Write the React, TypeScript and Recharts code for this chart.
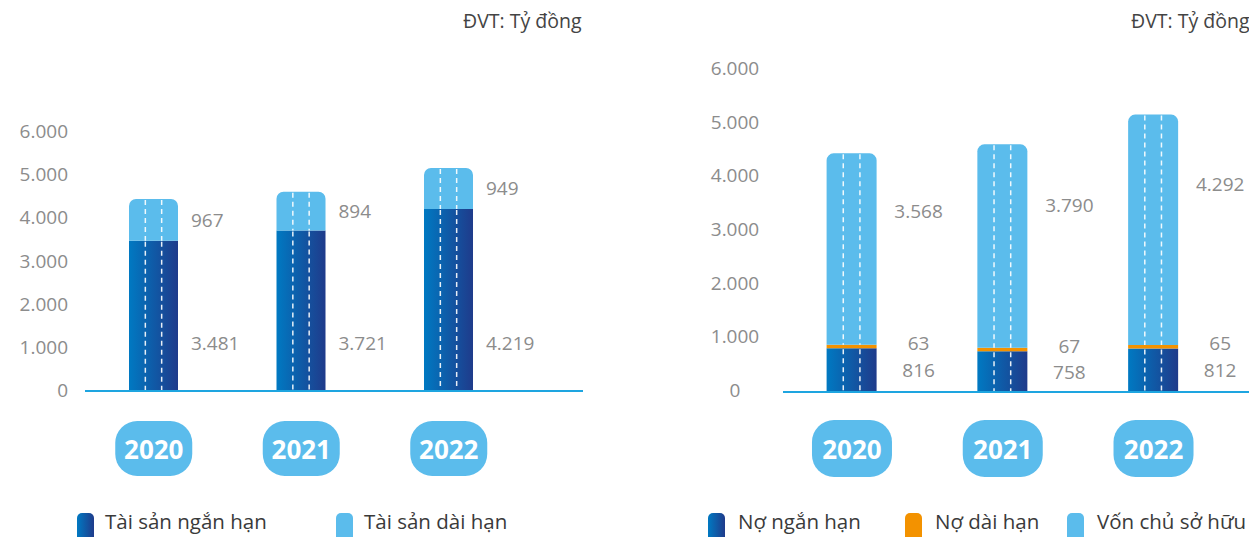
import React from 'react';
import { BarChart, Bar, XAxis, YAxis, LabelList, Legend } from 'recharts';

// ---------- data ----------
const years = ['2020', '2021', '2022'];
const taiSanNganHan = [3481, 3721, 4219];
const taiSanDaiHan = [967, 894, 949];
const noNganHan = [816, 758, 812];
const noDaiHan = [63, 67, 65];
const vonChuSoHuu = [3568, 3790, 4292];
const yTicks = [0, 1000, 2000, 3000, 4000, 5000, 6000];
const unitLabel = 'ĐVT: Tỷ đồng';
const leftNames = ['Tài sản ngắn hạn', 'Tài sản dài hạn'];
const rightNames = ['Nợ ngắn hạn', 'Nợ dài hạn', 'Vốn chủ sở hữu'];

const leftData = years.map((y, i) => ({ year: y, nganHan: taiSanNganHan[i], daiHan: taiSanDaiHan[i] }));
const rightData = years.map((y, i) => ({ year: y, noNgan: noNganHan[i], noDai: noDaiHan[i], von: vonChuSoHuu[i] }));

// ---------- styles ----------
const LIGHT = '#5bbcec';
const ORANGE = '#f39200';
const DARK_A = '#0079c2';
const DARK_B = '#1f3b8b';
const AXIS = '#1ea5e0';
const GREY = '#8c8c8c';
const FONT = '"Open Sans", "Noto Sans", sans-serif';

const fmt = (v: number) => String(v).replace(/\B(?=(\d{3})+(?!\d))/g, '.');

function Seg(props: any) {
  const { x, y, width: w, height: h, fill, rounded, dashes } = props;
  if (!h || h <= 0) return null;
  const r = rounded ? Math.min(7, w / 2, h) : 0;
  const d = rounded
    ? `M${x},${y + h} L${x},${y + r} A${r},${r} 0 0 1 ${x + r},${y} L${x + w - r},${y} A${r},${r} 0 0 1 ${x + w},${y + r} L${x + w},${y + h} Z`
    : `M${x},${y} h${w} v${h} h${-w} Z`;
  return (
    <g>
      <path d={d} fill={fill} />
      {dashes &&
        [1, 2].map((k) => (
          <line
            key={k}
            x1={x + (w * k) / 3}
            x2={x + (w * k) / 3}
            y1={y + 1}
            y2={y + h}
            stroke="#ffffff"
            strokeWidth={1.5}
            strokeDasharray="5 4"
            strokeOpacity={0.9}
          />
        ))}
    </g>
  );
}

const YearBadge = (w: number, h: number, top: number) => (props: any) => {
  const { x, y, payload } = props;
  return (
    <g>
      <rect x={x - w / 2} y={y + top} width={w} height={h} rx={22} ry={22} fill={LIGHT} />
      <text
        x={x}
        y={y + top + h / 2}
        textAnchor="middle"
        dominantBaseline="central"
        fill="#ffffff"
        fontSize={26}
        fontWeight={700}
        fontFamily={FONT}
      >
        {payload.value}
      </text>
    </g>
  );
};

const YTick = (anchor: string, dy: number) => (props: any) => {
  const { x, y, payload } = props;
  return (
    <text x={x} y={y + dy} textAnchor={anchor} dominantBaseline="central" fill={GREY} fontSize={19} fontFamily={FONT}>
      {fmt(payload.value)}
    </text>
  );
};

const valueText = (x: number, y: number, v: number, anchor: string) => (
  <text x={x} y={y} textAnchor={anchor} dominantBaseline="central" fill={GREY} fontSize={19} fontFamily={FONT}>
    {fmt(v)}
  </text>
);

function getBox(p: any) {
  const vb = p.viewBox || {};
  return {
    x: p.x ?? vb.x,
    y: p.y ?? vb.y,
    w: p.width ?? vb.width,
    h: p.height ?? vb.height,
  };
}

const LegendMarker = ({ bg }: { bg: string }) => (
  <div style={{ width: 17, height: 24, marginTop: 5, borderRadius: '5px 5px 0 0', background: bg, flex: 'none' }} />
);

const makeLegend = (names: string[], bgs: string[], widths: number[], gap: number) => () => (
  <div style={{ display: 'flex', alignItems: 'flex-start', fontFamily: FONT }}>
    {names.map((n, i) => (
      <div key={n} style={{ display: 'flex', alignItems: 'flex-start', width: widths[i], flex: 'none' }}>
        <LegendMarker bg={bgs[i]} />
        <span style={{ marginLeft: gap, fontSize: 20.5, lineHeight: '26px', color: '#3a3a3a', whiteSpace: 'nowrap' }}>{n}</span>
      </div>
    ))}
  </div>
);

const DARK_CSS = `linear-gradient(to right, ${DARK_A}, ${DARK_B})`;

const unitStyle: React.CSSProperties = { position: 'absolute', top: 8, fontSize: 19.5, color: '#444', fontFamily: FONT, whiteSpace: 'nowrap', lineHeight: '26px' };

export default function App() {
  return (
    <div style={{ position: 'absolute', left: 0, top: 0, width: 1249, height: 537, overflow: 'hidden', background: '#fff', fontFamily: FONT }}>
      <div style={{ ...unitStyle, left: 463 }}>{unitLabel}</div>
      <div style={{ ...unitStyle, left: 1131 }}>{unitLabel}</div>

      {/* Left chart */}
      <div style={{ position: 'absolute', left: 0, top: 0 }}>
        <BarChart width={620} height={537} data={leftData} margin={{ top: 132, right: 37, bottom: 56, left: 0 }}>
          <defs>
            <linearGradient id="gDarkL" x1="0" y1="0" x2="1" y2="0">
              <stop offset="0" stopColor={DARK_A} />
              <stop offset="1" stopColor={DARK_B} />
            </linearGradient>
          </defs>
          <XAxis
            dataKey="year"
            height={90}
            padding={{ left: -5, right: 60.5 }}
            axisLine={{ stroke: AXIS, strokeWidth: 2 }}
            tickLine={false}
            tickSize={0}
            tickMargin={0}
            interval={0}
            tick={YearBadge(77, 55, 30)}
          />
          <YAxis
            width={85}
            domain={[0, 6000]}
            ticks={yTicks}
            axisLine={false}
            tickLine={false}
            tickSize={0}
            tickMargin={17}
            tick={YTick('end', -1)}
          />
          <Legend layout="horizontal" verticalAlign="middle" align="center" wrapperStyle={{ position: 'absolute', top: 508, left: 77, width: 520 }} content={makeLegend(leftNames, [DARK_CSS, LIGHT], [259, 260], 11)} />
          <Bar dataKey="nganHan" name={leftNames[0]} stackId="a" barSize={49} fill="url(#gDarkL)" isAnimationActive={false}
            shape={(p: any) => <Seg {...p} fill="url(#gDarkL)" dashes />}>
            <LabelList dataKey="nganHan" content={(p: any) => { const b = getBox(p); return valueText(b.x + b.w + 13, b.y + b.h - 48, p.value, 'start'); }} />
          </Bar>
          <Bar dataKey="daiHan" name={leftNames[1]} stackId="a" barSize={49} fill={LIGHT} isAnimationActive={false}
            shape={(p: any) => <Seg {...p} fill={LIGHT} rounded dashes />}>
            <LabelList dataKey="daiHan" content={(p: any) => { const b = getBox(p); return valueText(b.x + b.w + 13, b.y + b.h / 2, p.value, 'start'); }} />
          </Bar>
        </BarChart>
      </div>

      {/* Right chart */}
      <div style={{ position: 'absolute', left: 640, top: 0 }}>
        <BarChart width={609} height={537} data={rightData} margin={{ top: 70, right: 0, bottom: 55, left: 0 }}>
          <defs>
            <linearGradient id="gDarkR" x1="0" y1="0" x2="1" y2="0">
              <stop offset="0" stopColor={DARK_A} />
              <stop offset="1" stopColor={DARK_B} />
            </linearGradient>
          </defs>
          <XAxis
            dataKey="year"
            height={90}
            padding={{ left: -6.4, right: 20.1 }}
            axisLine={{ stroke: AXIS, strokeWidth: 2 }}
            tickLine={false}
            tickSize={0}
            tickMargin={0}
            interval={0}
            tick={YearBadge(80, 57, 28)}
          />
          <YAxis
            width={143}
            domain={[0, 6000]}
            ticks={yTicks}
            axisLine={false}
            tickLine={false}
            tickSize={0}
            tickMargin={48}
            tick={YTick('middle', -2)}
          />
          <Legend layout="horizontal" verticalAlign="middle" align="center" wrapperStyle={{ position: 'absolute', top: 508, left: 68, width: 560 }} content={makeLegend(rightNames, [DARK_CSS, ORANGE, LIGHT], [197, 162, 220], 13)} />
          <Bar dataKey="noNgan" name={rightNames[0]} stackId="a" barSize={50} fill="url(#gDarkR)" isAnimationActive={false}
            shape={(p: any) => <Seg {...p} fill="url(#gDarkR)" dashes />}>
            <LabelList dataKey="noNgan" content={(p: any) => { const b = getBox(p); return valueText(b.x + b.w / 2 + 67, b.y + b.h / 2, p.value, 'middle'); }} />
          </Bar>
          <Bar dataKey="noDai" name={rightNames[1]} stackId="a" barSize={50} fill={ORANGE} isAnimationActive={false}
            shape={(p: any) => <Seg {...p} fill={ORANGE} />}>
            <LabelList dataKey="noDai" content={(p: any) => { const b = getBox(p); return valueText(b.x + b.w / 2 + 67, b.y + b.h / 2 - 4, p.value, 'middle'); }} />
          </Bar>
          <Bar dataKey="von" name={rightNames[2]} stackId="a" barSize={50} fill={LIGHT} isAnimationActive={false}
            shape={(p: any) => <Seg {...p} fill={LIGHT} rounded dashes />}>
            <LabelList dataKey="von" content={(p: any) => { const b = getBox(p); return valueText(b.x + b.w / 2 + 67, b.y + b.h * 0.3, p.value, 'middle'); }} />
          </Bar>
        </BarChart>
      </div>
    </div>
  );
}
